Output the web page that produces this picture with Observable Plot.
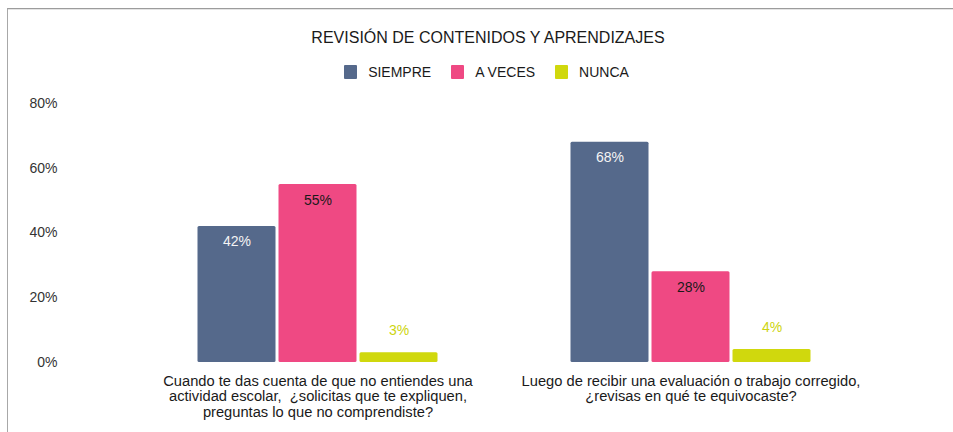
<!DOCTYPE html>
<html>
<head>
<meta charset="utf-8">
<script src="https://cdn.jsdelivr.net/npm/d3@7"></script>
<script src="https://cdn.jsdelivr.net/npm/@observablehq/plot@0.6"></script>
<style>
  html, body { margin: 0; padding: 0; background: #fff; overflow: hidden; }
  body { width: 953px; height: 432px; position: relative; font-family: "Liberation Sans", Arial, sans-serif; }
  #frame { position: absolute; left: 7px; top: 8px; right: 0; bottom: 0; border-top: 1px solid #9c9c9c; border-left: 1px solid #a8a8a8; box-shadow: inset 0 1px 0 #e4e4e4; }
  #title { position: absolute; left: 0; top: 28px; width: 953px; padding-left: 23px; box-sizing: border-box; text-align: center; font-size: 16px; line-height: 20px; color: #1a1a1a; }
  #legend { position: absolute; left: 0; top: 64px; width: 953px; padding-left: 20px; box-sizing: border-box; display: flex; justify-content: center; gap: 20px; font-size: 14px; line-height: 16px; color: #1a1a1a; }
  #legend .item { display: flex; align-items: center; }
  #legend .sw { width: 13px; height: 14px; border-radius: 1px; margin-right: 11px; }
  #chart { position: absolute; left: 0; top: 88px; }
</style>
</head>
<body>
<div id="frame"></div>
<div id="title">REVISIÓN DE CONTENIDOS Y APRENDIZAJES</div>
<div id="legend"></div>
<div id="chart"></div>
<script>
const questions = [
  "Cuando te das cuenta de que no entiendes una\nactividad escolar,  ¿solicitas que te expliquen,\npreguntas lo que no comprendiste?",
  "Luego de recibir una evaluación o trabajo corregido,\n¿revisas en qué te equivocaste?"
];
const series = ["SIEMPRE", "A VECES", "NUNCA"];
const siempre = [42, 68];
const aveces = [55, 28];
const nunca = [3, 4];
const yTicks = [0, 20, 40, 60, 80];
const colors = ["#55698b", "#ef4983", "#d0d80d"];
const labelColors = ["#f4f4f4", "#1a1a1a", "#cdd50f"];

const valuesBySeries = [siempre, aveces, nunca];
const data = [];
questions.forEach((q, i) => {
  series.forEach((s, j) => data.push({question: q, series: s, value: valuesBySeries[j][i]}));
});

// legend
const legend = document.getElementById("legend");
series.forEach((s, j) => {
  const it = document.createElement("div");
  it.className = "item";
  const sw = document.createElement("span");
  sw.className = "sw";
  sw.style.background = colors[j];
  const tx = document.createElement("span");
  tx.textContent = s;
  it.appendChild(sw); it.appendChild(tx);
  legend.appendChild(it);
});

const labelMark = (j, dy) => Plot.text(data.filter(d => d.series === series[j]), {
  fx: "question", x: "series", y: "value",
  text: d => d.value + "%",
  dy, fill: labelColors[j], fontSize: 14
});

const chart = Plot.plot({
  width: 953,
  height: 344,
  marginTop: 15,
  marginBottom: 70,
  marginLeft: 60,
  marginRight: 4.5,
  style: {fontFamily: "'Liberation Sans', Arial, sans-serif", background: "transparent", overflow: "visible"},
  fx: {domain: questions, paddingInner: 0.3, paddingOuter: 0.34, axis: null, label: null},
  x: {domain: series, paddingInner: 0, paddingOuter: 0.1, axis: null, label: null},
  y: {domain: [0, 80], axis: null, label: null},
  color: {domain: series, range: colors},
  marks: [
    Plot.barY(data, {fx: "question", x: "series", y: "value", fill: "series", insetLeft: 1.5, insetRight: 1.5, rx: 1.5}),
    labelMark(0, 15),
    labelMark(1, 16),
    labelMark(2, -22),
    Plot.axisY({ticks: yTicks, tickFormat: d => d + "%", tickSize: 0, tickPadding: 130, fontSize: 14, fill: "#333", label: null}),
    Plot.text(questions, {fx: d => d, text: d => d, frameAnchor: "bottom", lineAnchor: "top", dy: 12, fontSize: 14.7, lineHeight: 1.06, fill: "#1a1a1a"})
  ]
});
document.getElementById("chart").appendChild(chart);
</script>
</body>
</html>
